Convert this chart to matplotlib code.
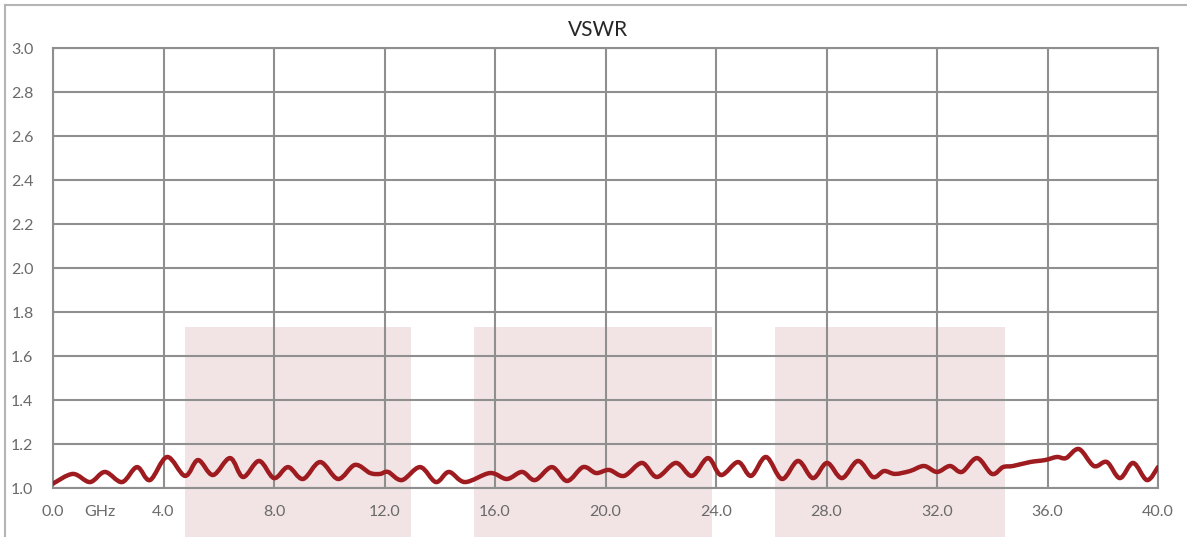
"""
VSWR sweep chart, 0-40 GHz, with the three shaded bands.
"""

import matplotlib
matplotlib.use("Agg")
import matplotlib.pyplot as plt
import numpy as np
from matplotlib.lines import Line2D
from matplotlib.patches import PathPatch, Rectangle
from matplotlib.path import Path

# values (peaks, troughs and bends)
freq_ghz = [
    0.00, 0.72, 1.34, 1.88, 2.50, 3.04, 3.51, 4.13, 4.78, 5.25,
    5.79, 6.41, 6.88, 7.46, 8.00, 8.51, 9.05, 9.67, 10.32, 10.93,
    11.48, 11.84, 12.13, 12.63, 13.29, 13.86, 14.33, 14.91, 15.82, 16.43,
    16.98, 17.45, 18.06, 18.61, 19.19, 19.66, 20.13, 20.67, 21.32, 21.86,
    22.55, 23.13, 23.71, 24.18, 24.80, 25.27, 25.81, 26.39, 26.97, 27.51,
    28.02, 28.56, 29.14, 29.68, 30.08, 30.48, 31.02, 31.53, 32.00, 32.47,
    32.90, 33.45, 33.99, 34.39, 34.75, 35.37, 35.91, 36.34, 36.67, 37.14,
    37.68, 38.15, 38.62, 39.10, 39.60, 40.00,
]
vswr = [
    1.020, 1.064, 1.027, 1.073, 1.027, 1.095, 1.036, 1.141, 1.055, 1.127,
    1.059, 1.136, 1.050, 1.123, 1.045, 1.095, 1.041, 1.118, 1.041, 1.105,
    1.068, 1.064, 1.073, 1.036, 1.095, 1.027, 1.073, 1.027, 1.068, 1.041,
    1.073, 1.036, 1.095, 1.032, 1.095, 1.068, 1.082, 1.055, 1.114, 1.050,
    1.114, 1.055, 1.136, 1.059, 1.118, 1.055, 1.141, 1.041, 1.123, 1.045,
    1.114, 1.045, 1.123, 1.050, 1.077, 1.064, 1.077, 1.100, 1.073, 1.100,
    1.073, 1.136, 1.064, 1.095, 1.100, 1.118, 1.127, 1.141, 1.136, 1.177,
    1.100, 1.118, 1.045, 1.114, 1.036, 1.095,
]

band_starts = [4.78, 15.24, 26.14]
band_ends = [12.96, 23.86, 34.46]
band_top = 1.73

x_ticks = [0, 4, 8, 12, 16, 20, 24, 28, 32, 36, 40]
y_ticks = [1.0, 1.2, 1.4, 1.6, 1.8, 2.0, 2.2, 2.4, 2.6, 2.8, 3.0]

GRID = "#8f8f8f"
TEXT = "#6a6a6a"
LINE = "#9e1b20"
BAND = "#f2e4e5"

plt.rcParams["font.family"] = ["Lato", "DejaVu Sans"]


def smooth_path(x, y, k=1 / 6):
    """Bezier path through the points, like a spreadsheet 'smoothed line'."""
    p = np.column_stack([x, y])
    n = len(p)
    verts = [p[0]]
    codes = [Path.MOVETO]
    for i in range(n - 1):
        p0 = p[max(i - 1, 0)]
        p1, p2 = p[i], p[i + 1]
        p3 = p[min(i + 2, n - 1)]
        verts += [p1 + (p2 - p0) * k, p2 - (p3 - p1) * k, p2]
        codes += [Path.CURVE4] * 3
    return Path(verts, codes)


W, H = 1187, 537
fig = plt.figure(figsize=(W / 100, H / 100), dpi=100)
ax = fig.add_axes([53 / W, 1 - 488 / H, (1158 - 53) / W, (488 - 48) / H])

ax.set_xlim(0, 40)
ax.set_ylim(1.0, 3.0)
ax.set_axisbelow(True)

# shaded bands run down past the axis to the bottom of the picture
for x0, x1 in zip(band_starts, band_ends):
    ax.add_patch(Rectangle((x0, 0.5), x1 - x0, band_top - 0.5,
                           facecolor=BAND, edgecolor="none",
                           zorder=0.3, clip_on=False))

ax.add_patch(PathPatch(smooth_path(freq_ghz, vswr), fill=False,
                       edgecolor=LINE, lw=3.2, capstyle="round",
                       joinstyle="round", zorder=3))

ax.set_xticks(x_ticks)
ax.set_xticklabels([f"{v:.1f}" for v in x_ticks])
ax.set_yticks(y_ticks)
ax.set_yticklabels([f"{v:.1f}" for v in y_ticks])
ax.grid(True, color=GRID, lw=1.5)
for s in ax.spines.values():
    s.set_color(GRID)
    s.set_linewidth(1.5)
ax.tick_params(length=0, labelsize=11.5, labelcolor=TEXT)
ax.tick_params(axis="y", pad=14)
ax.tick_params(axis="x", pad=12)

ax.text(1.7, -0.055, "GHz", transform=ax.get_xaxis_transform(),
        ha="center", va="center", fontsize=11.5, color=TEXT)

fig.text(598 / W, 1 - 30 / H, "VSWR", ha="center", va="center",
         fontsize=15, color="#262626")

# outer frame (left and top edges only are in view)
fig.add_artist(Line2D([4.5 / W, 4.5 / W], [0, 1 - 4.5 / H],
                      transform=fig.transFigure, color="#b4b4b4", lw=1.5))
fig.add_artist(Line2D([4.5 / W, 1], [1 - 4.5 / H, 1 - 4.5 / H],
                      transform=fig.transFigure, color="#b4b4b4", lw=1.5))

fig.savefig("out.png", dpi=100)
plt.close(fig)
